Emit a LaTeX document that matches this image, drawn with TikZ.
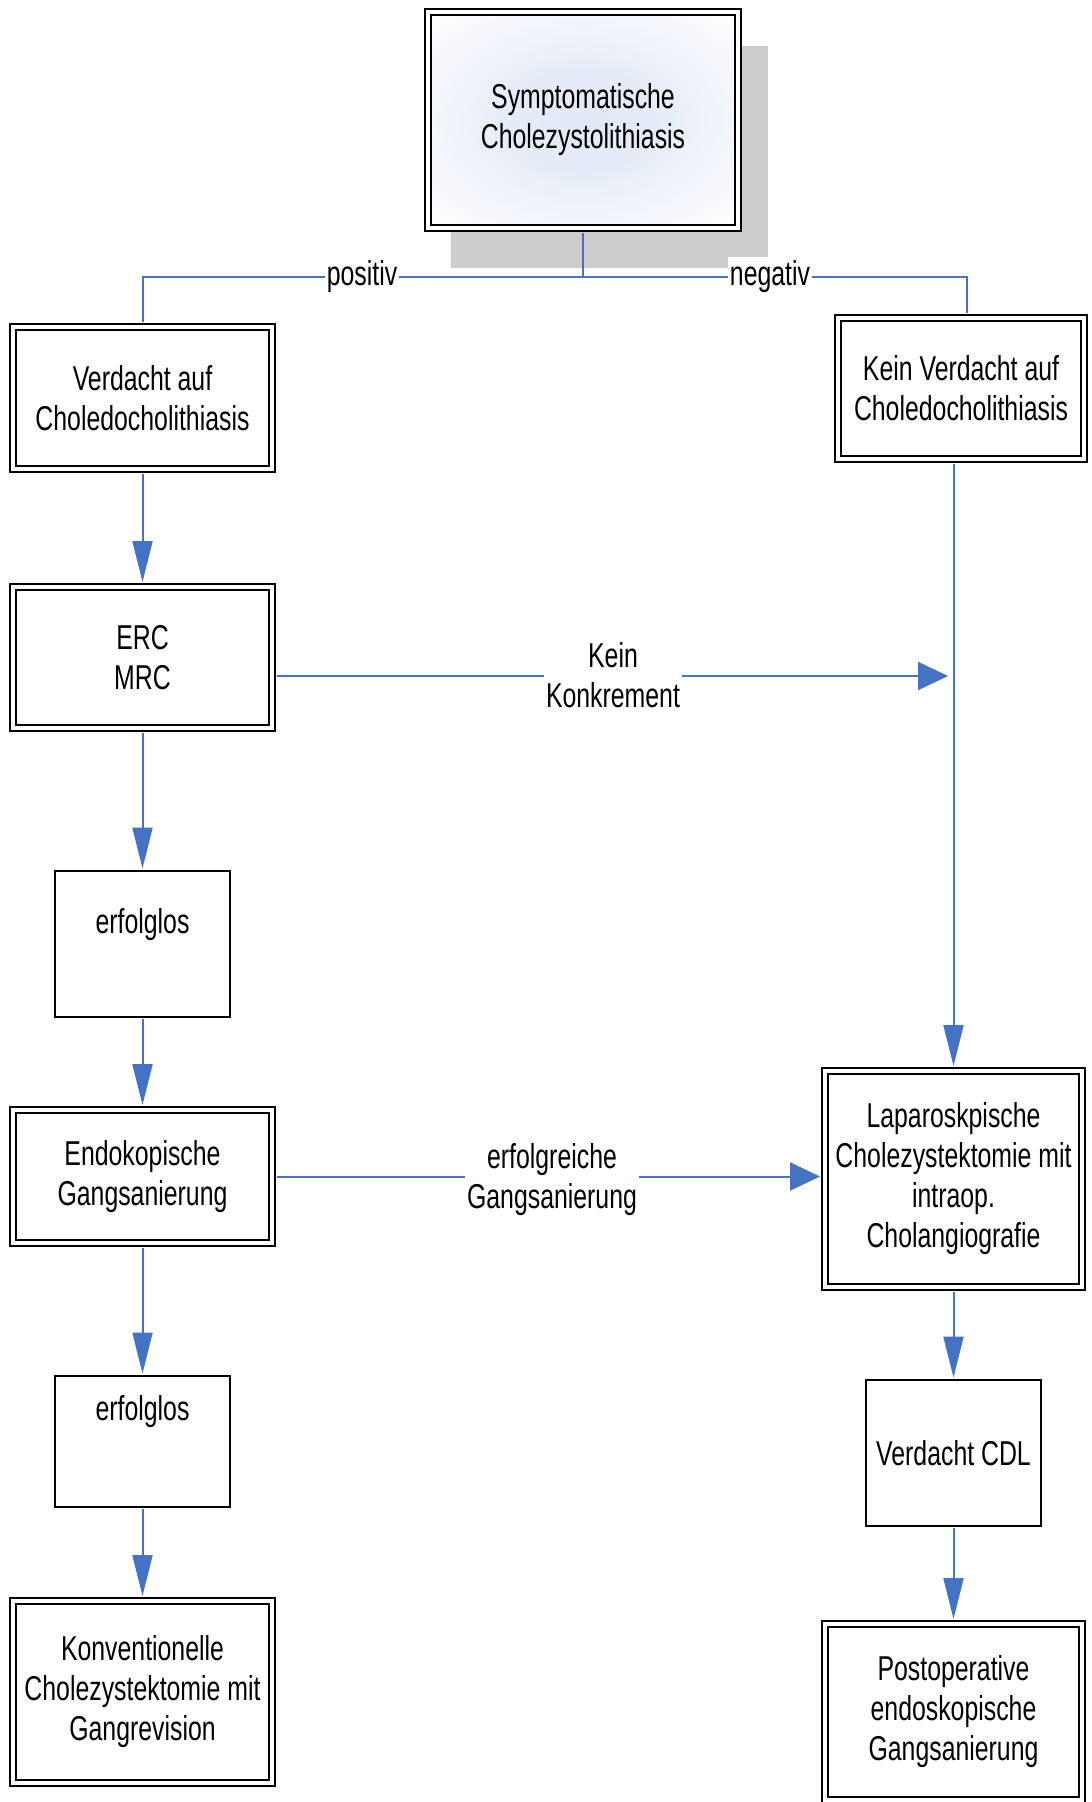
\documentclass[tikz,border=0pt]{standalone}
\usepackage{fontspec}
\setmainfont{Liberation Sans}[FakeStretch=0.72]
\usetikzlibrary{arrows.meta}
\definecolor{lineblue}{RGB}{68,114,196}
\definecolor{shadowgray}{RGB}{204,204,204}
\definecolor{glow}{RGB}{226,233,246}
\pgfdeclareradialshading{glowshade}{\pgfpoint{0bp}{0bp}}{color(0bp)=(glow); color(12bp)=(glow!85!white); color(26bp)=(glow!35!white); color(34bp)=(white); color(50bp)=(white)}
\begin{document}
\begin{tikzpicture}[x=0.5pt,y=-0.5pt,
 every node/.style={font=\fontsize{17.25pt}{20pt}\selectfont, align=center, inner sep=0pt},
 dbox/.style={draw=black, line width=1pt, double=white, double distance=2pt},
 sbox/.style={draw=black, line width=1.25pt, fill=white},
 conn/.style={draw=lineblue, line width=1pt},
 varrow/.style={conn, -{Triangle[length=20.5pt,width=10pt]}},
 harrow/.style={conn, -{Triangle[length=15pt,width=14pt]}},
 lbl/.style={fill=white, inner xsep=1pt, inner ysep=2pt},
]
\useasboundingbox (0,0) rectangle (1091,1802);
% shadow of top box
\fill[shadowgray] (451,46) rectangle (768,268);
% boxes
\node[dbox, shading=glowshade, minimum width=155pt, minimum height=108pt] (T) at (583,120) {Symptomatische\\Cholezystolithiasis};
\node[dbox, minimum width=129.5pt, minimum height=71pt] (V1) at (142.5,398) {Verdacht auf\\Choledocholithiasis};
\node[dbox, minimum width=123pt, minimum height=70.5pt] (K1) at (961,388.5) {Kein Verdacht auf\\Choledocholithiasis};
\node[dbox, minimum width=129.5pt, minimum height=70.5pt] (ERC) at (142.5,657.5) {ERC\\MRC};
\node[sbox, minimum width=87.5pt, minimum height=73pt] (E1) at (142.5,944) {};
\node (E1t) at (142.5,925) {erfolglos};
\node[dbox, minimum width=129.5pt, minimum height=66.5pt] (EG) at (142.5,1176.5) {Endokopische\\Gangsanierung};
\node[sbox, minimum width=87.5pt, minimum height=65.5pt] (E2) at (142.5,1441.5) {};
\node (E2t) at (142.5,1412) {erfolglos};
\node[dbox, minimum width=129.5pt, minimum height=91pt] (KV) at (142.5,1692) {Konventionelle\\Cholezystektomie mit\\Gangrevision};
\node[dbox, minimum width=128.5pt, minimum height=108pt] (LC) at (953.5,1179) {Laparoskpische\\Cholezystektomie mit\\intraop.\\Cholangiografie};
\node[sbox, minimum width=87.5pt, minimum height=73pt] (CDL) at (953.5,1453) {Verdacht CDL};
\node[dbox, minimum width=128.5pt, minimum height=88pt] (PO) at (953.5,1712) {Postoperative\\endoskopische\\Gangsanierung};
% split connector
\coordinate (j) at (583,277);
\draw[conn, shorten <=2pt] (T.south) -- (j);
\draw[conn, shorten >=2pt] (j) -| (V1.north);
\draw[conn, shorten >=2pt] (j) -| ([xshift=3pt]K1.north);
\node[lbl] (pos) at (362,277) {positiv};
\node[lbl] (neg) at (770,277) {negativ};
% left column
\draw[varrow, shorten <=2pt, shorten >=2pt] (V1.south) -- (ERC.north);
\draw[varrow, shorten <=2pt, shorten >=0.6pt] (ERC.south) -- (E1.north);
\draw[varrow, shorten <=0.6pt, shorten >=2pt] (E1.south) -- (EG.north);
\draw[varrow, shorten <=2pt, shorten >=0.6pt] (EG.south) -- (E2.north);
\draw[varrow, shorten <=0.6pt, shorten >=2pt] (E2.south) -- (KV.north);
% horizontal arrows
\coordinate (kk) at (948,676);
\draw[harrow, shorten <=2pt] (ERC.east |- kk) -- (kk);
\node[lbl] (kl) at (613,675) {Kein\\Konkrement};
\draw[harrow, shorten <=2pt, shorten >=2pt] (EG.east) -- (LC.west |- EG.east);
\node[lbl] (el) at (552,1180) {erfolgreiche\\Gangsanierung};
% right column
\draw[varrow, shorten <=2pt, shorten >=2pt] (LC.north |- K1.south) -- (LC.north);
\draw[varrow, shorten <=2pt, shorten >=0.6pt] (LC.south) -- (CDL.north);
\draw[varrow, shorten <=0.6pt, shorten >=2pt] (CDL.south) -- (PO.north);
\end{tikzpicture}
\end{document}
